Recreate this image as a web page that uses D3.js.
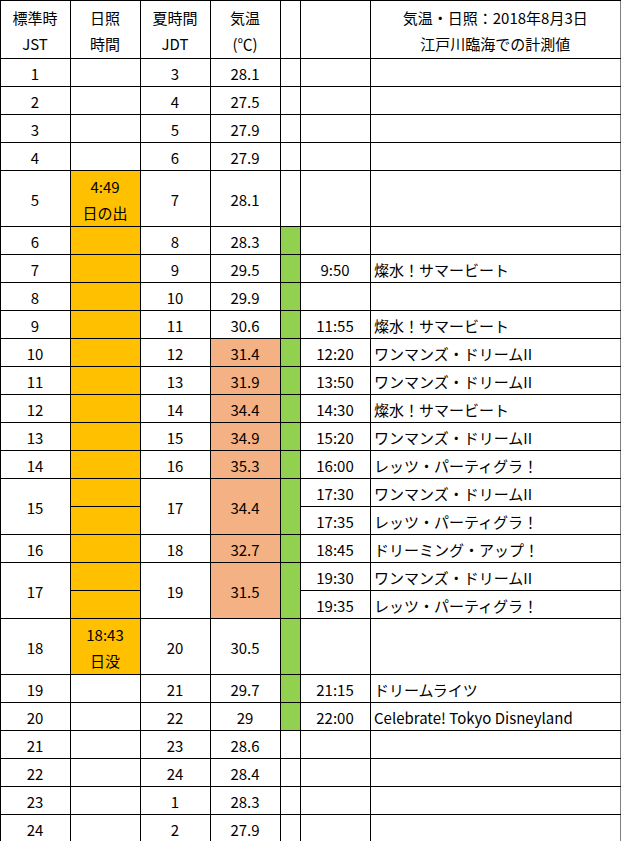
<!DOCTYPE html>
<html><head><meta charset="utf-8">
<script src="https://cdn.jsdelivr.net/npm/d3@7"></script>
<style>body{margin:0;background:#fff}</style></head>
<body><svg id="c" width="621" height="841"></svg>
<script>
const jst = d3.range(1,25);
const jdt = [3,4,5,6,7,8,9,10,11,12,13,14,15,16,17,18,19,20,21,22,23,24,1,2];
const temps = ["28.1","27.5","27.9","27.9","28.1","28.3","29.5","29.9","30.6","31.4","31.9","34.4","34.9","35.3","34.4","32.7","31.5","30.5","29.7","29","28.6","28.4","28.3","27.9"];
const hotHours = [10,11,12,13,14,15,16,17];
const sunHours = d3.range(5,19);
const sunLabels = {5:["4:49","日の出"],18:["18:43","日没"]};
const greenHours = d3.range(6,21);
const splitHours = [15,17];
const tallHours = [5,15,17,18];
const events = [
 [7,-1,"9:50","燦水！サマービート"],
 [9,-1,"11:55","燦水！サマービート"],
 [10,-1,"12:20","ワンマンズ・ドリームII"],
 [11,-1,"13:50","ワンマンズ・ドリームII"],
 [12,-1,"14:30","燦水！サマービート"],
 [13,-1,"15:20","ワンマンズ・ドリームII"],
 [14,-1,"16:00","レッツ・パーティグラ！"],
 [15,0,"17:30","ワンマンズ・ドリームII"],
 [15,1,"17:35","レッツ・パーティグラ！"],
 [16,-1,"18:45","ドリーミング・アップ！"],
 [17,0,"19:30","ワンマンズ・ドリームII"],
 [17,1,"19:35","レッツ・パーティグラ！"],
 [19,-1,"21:15","ドリームライツ"],
 [20,-1,"22:00","Celebrate! Tokyo Disneyland"]
];
const headers = [["標準時","JST"],["日照","時間"],["夏時間","JDT"],["気温","(℃)"],[""],[""],["気温・日照：2018年8月3日","江戸川臨海での計測値"]];
const colX = [0,70,140,210,280,300,370,620.5];

const svg = d3.select("#c");
const font = "'Noto Sans CJK JP','Noto Sans',sans-serif";
const headH = 58, rowH = 28;
const heights = jst.map(h => tallHours.includes(h) ? 2*rowH : rowH);
const tops = [headH, ...d3.cumsum(heights).map(v=>v+headH)];
const y = h => tops[h-1], hh = h => heights[h-1];

function cell(ci, y0, h, fill){
  svg.append("rect").attr("x",colX[ci]+0.5).attr("y",y0+0.5)
   .attr("width",colX[ci+1]-colX[ci]).attr("height",h)
   .attr("fill",fill||"#fff").attr("stroke","#000").attr("stroke-width",1);
}
function text(ci, yc, lines, anchor){
  const x = anchor==="start" ? colX[ci]+4 : (colX[ci]+colX[ci+1])/2;
  const lh = 26, n = lines.length;
  lines.forEach((t,i)=>{
    svg.append("text").attr("x",x).attr("y",yc+(i-(n-1)/2)*lh)
     .attr("dominant-baseline","central").attr("text-anchor",anchor||"middle")
     .attr("font-family",font).attr("font-size",15).attr("fill","#000").text(t);
  });
}
// header
headers.forEach((lines,i)=>{ cell(i,0,headH); text(i,headH/2+1,lines); });
// rows
jst.forEach((h,i)=>{
  const y0=y(h), H=hh(h), yc=y0+H/2+1;
  cell(0,y0,H); text(0,yc,[String(h)]);
  const sun = sunHours.includes(h) ? "#FFC000" : "#fff";
  if (splitHours.includes(h)) { cell(1,y0,H/2,sun); cell(1,y0+H/2,H/2,sun); }
  else cell(1,y0,H,sun);
  if (sunLabels[h]) text(1,yc,sunLabels[h]);
  cell(2,y0,H); text(2,yc,[String(jdt[i])]);
  cell(3,y0,H,hotHours.includes(h)?"#F4B183":"#fff"); text(3,yc,[temps[i]]);
  cell(4,y0,H,greenHours.includes(h)?"#92D050":"#fff");
  if (splitHours.includes(h)) { [0,1].forEach(s=>{cell(5,y0+s*H/2,H/2);cell(6,y0+s*H/2,H/2);}); }
  else { cell(5,y0,H); cell(6,y0,H); }
});
events.forEach(([h,s,t,name])=>{
  const y0=y(h), H=hh(h);
  const yc = s<0 ? y0+H/2+1 : y0+s*H/2+H/4+1;
  text(5,yc,[t]); text(6,yc,[name],"start");
});
</script></body></html>
